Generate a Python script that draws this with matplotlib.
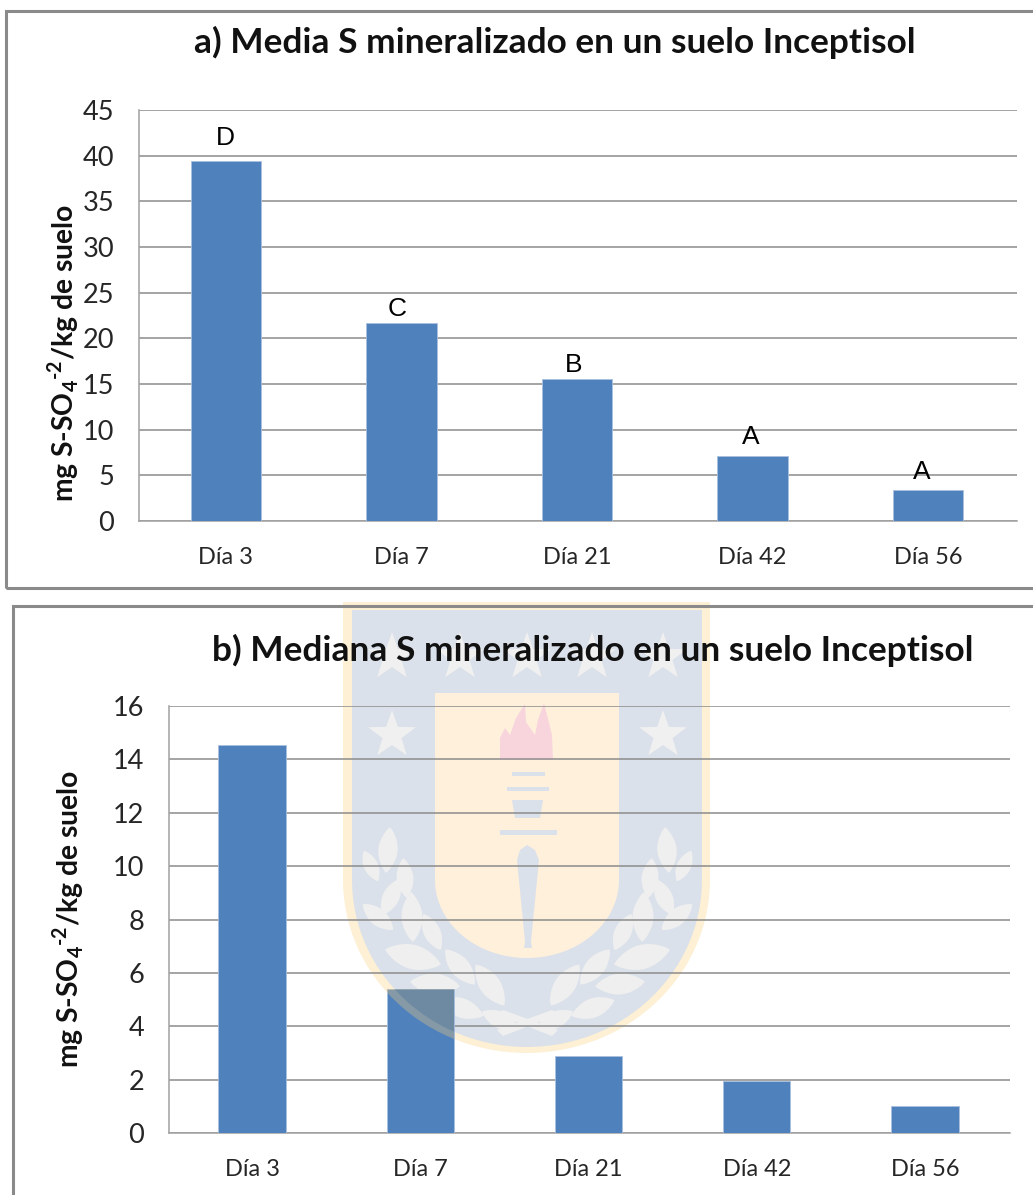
import matplotlib
matplotlib.use("Agg")
import matplotlib.pyplot as plt
from matplotlib.patches import Rectangle, Polygon
import numpy as np

W, H = 1033, 1195
categories = ["Día 3", "Día 7", "Día 21", "Día 42", "Día 56"]
media = [39.4, 21.7, 15.5, 7.1, 3.4]
mediana = [14.55, 5.4, 2.9, 1.95, 1.0]
letters = ["D", "C", "B", "A", "A"]
title_a = "a) Media S mineralizado en un suelo Inceptisol"
title_b = "b) Mediana S mineralizado en un suelo Inceptisol"
ylabel = r"mg S-SO$_{\mathbf{4}}$$^{\text{-}\mathbf{2}}$/kg de suelo"
BAR = "#4f81bd"
GRID = "#8c8c8c"
TXT = "#262626"
FONT = "Lato"
plt.rcParams["mathtext.fontset"] = "custom"
plt.rcParams["mathtext.bf"] = FONT + ":bold"
plt.rcParams["mathtext.rm"] = FONT + ":bold"

fig = plt.figure(figsize=(W / 100, H / 100), dpi=100, facecolor="white")


def fx(x):
    return x / W


def fy(y):
    return 1 - y / H


def frame(x0, y0, x1, y1):
    fig.add_artist(Rectangle((fx(x0), fy(y1)), (x1 - x0) / W, (y1 - y0) / H, transform=fig.transFigure,
                             fill=False, ec="#8a8a8a", lw=2.2, zorder=5))


frame(6, 11, 1040, 588)
frame(13, 606, 1040, 1205)


def panel(left, right, top, bottom, vals, ymax, step, title, tx, ty, ylx, yly):
    ax = fig.add_axes([fx(left), fy(bottom), (right - left) / W, (bottom - top) / H])
    ax.patch.set_alpha(0)
    ax.set_axisbelow(True)
    bars = ax.bar(range(5), vals, width=0.40, color=BAR, edgecolor="#a9c0de", linewidth=0.6, zorder=3)
    shift = 5 / (right - left)
    ax.set_xlim(-0.5 + shift, 4.5 + shift)
    ax.set_ylim(0, ymax)
    ax.set_yticks(np.arange(0, ymax + 1, step))
    ax.set_xticks(range(5), categories)
    ax.grid(axis="y", color=GRID, lw=1.1)
    ax.tick_params(axis="x", length=0, labelsize=17, labelcolor=TXT, pad=19)
    ax.tick_params(axis="y", length=0, labelsize=19.5, labelcolor=TXT, pad=18)
    for lab in ax.get_xticklabels() + ax.get_yticklabels():
        lab.set_family(FONT)
    for s in ("top", "right"):
        ax.spines[s].set_visible(False)
    for s in ("left", "bottom"):
        ax.spines[s].set_color("#a0a0a0")
        ax.spines[s].set_linewidth(1.1)
    fig.text(fx(tx), fy(ty), title, family=FONT, weight="bold", fontsize=25.4, color="#111111",
             ha="center", va="center")
    fig.text(fx(ylx), fy(yly), ylabel, family=FONT, weight="bold", fontsize=20.3,
             color="#111111", rotation=90, ha="center", va="center")
    return ax, bars


ax_a, bars_a = panel(139, 1017, 110, 521, media, 45, 5, title_a, 555, 42, 63, 353)
ax_b, bars_b = panel(169, 1010, 706, 1133, mediana, 16, 2, title_b, 593, 650, 68, 919)

label_dx = [0, -4, -3, -2, -6]
label_dy = [11, 2, 2, 7, 6]
for i, (v, l) in enumerate(zip(media, letters)):
    ax_a.annotate(l, (i, v), xytext=(label_dx[i], label_dy[i]), textcoords="offset pixels", ha="center",
                  va="bottom", family="Liberation Sans", fontsize=19, color="black", zorder=5)


# University crest watermark, drawn in pixel coordinates behind the transparent axes
def P(pts):
    return [(fx(x), fy(y)) for x, y in pts]


def shield(x0, x1, y0, ym, yb, n=60):
    xc = (x0 + x1) / 2
    t = np.linspace(np.pi, 2 * np.pi, n)
    arc = [(xc + (x1 - x0) / 2 * np.cos(a), ym - (yb - ym) * np.sin(a)) for a in t]
    return [(x0, y0)] + arc + [(x1, y0)]


def add(pts, color, z=-5):
    fig.add_artist(Polygon(P(pts), closed=True, transform=fig.transFigure, fc=color, ec="none", zorder=z))


def star(cx, cy, r, color="#f0f0f0"):
    a = np.pi / 2 + np.arange(10) * np.pi / 5
    rr = np.where(np.arange(10) % 2 == 0, r, r * 0.4)
    add([(cx + q * np.cos(b), cy - q * np.sin(b)) for q, b in zip(rr, a)], color, -3)


def leaf(cx, cy, length, ang, wid=0.42, color="#efefef"):
    t = np.linspace(0, 1, 16)
    half = length * wid / 2 * np.sin(np.pi * t) ** 0.8
    s = (t - 0.5) * length
    top = np.c_[s, half]
    bot = np.c_[s[::-1], -half[::-1]]
    pts = np.vstack([top, bot])
    c, d = np.cos(np.radians(ang)), np.sin(np.radians(ang))
    add([(cx + u * c - v * d, cy - (u * d + v * c)) for u, v in pts], color, -3)


GOLD, BLUE, PANEL = "#fdf0d4", "#dbe1ea", "#fff0dc"
outer = shield(343, 710, 602, 880, 1053)
inner = shield(352, 702, 610, 880, 1047)
add(outer, GOLD, -6)
add(inner, BLUE, -5)
add(shield(435, 619, 693, 880, 958), PANEL, -4)
for cx, cy in [(392, 657), (460, 657), (527, 657), (592, 657), (663, 657), (392, 735), (663, 735)]:
    star(cx, cy, 25)
# torch
add([(500, 760), (500, 738), (505, 728), (510, 735), (516, 718), (525, 704), (526, 722), (535, 735),
     (538, 720), (544, 703), (552, 735), (553, 760)], "#f8d5dc", -2)
for xa, xb, y, h in [(512, 545, 774, 2), (507, 549, 789, 2), (500, 557, 832, 2.5)]:
    add([(xa, y - h), (xb, y - h), (xb, y + h), (xa, y + h)], BLUE, -2)
add([(512, 800), (543, 800), (540, 818), (515, 818)], BLUE, -2)
add([(517, 860), (520, 850), (527, 845), (535, 850), (539, 860), (531, 942), (532, 948), (524, 948), (525, 942)],
    BLUE, -2)
# laurel leaves (x, y, length, angle) for the left branch, mirrored for the right one
laurel = [(388, 850, 46, 85), (371, 866, 34, 115), (405, 878, 40, 95), (391, 897, 40, 65), (412, 917, 50, 92),
          (378, 917, 40, 140), (432, 932, 40, 115), (413, 957, 58, 165), (460, 967, 46, 130),
          (435, 984, 50, 175), (490, 985, 50, 125), (462, 1008, 46, 160), (500, 1020, 40, 155)]
for lx, ly, ln, an in laurel:
    leaf(lx, ly, ln, an)
    leaf(1055 - lx, ly, ln, 180 - an)
# crossed ribbon
add([(495, 1014), (503, 1010), (558, 1030), (552, 1036)], "#efefef", -3)
add([(560, 1014), (552, 1010), (497, 1030), (503, 1036)], "#efefef", -3)

# the crest tints the bar it crosses
for pts, col, alp in [(outer, "#c9b98a", 0.45), (inner, "#1f5496", 0.22)]:
    tint = Polygon(P(pts), closed=True, transform=fig.transFigure, fc=col, ec="none", alpha=alp, zorder=4)
    ax_b.add_patch(tint)
    tint.set_clip_path(bars_b[1])

fig.savefig("out.png", dpi=100)
